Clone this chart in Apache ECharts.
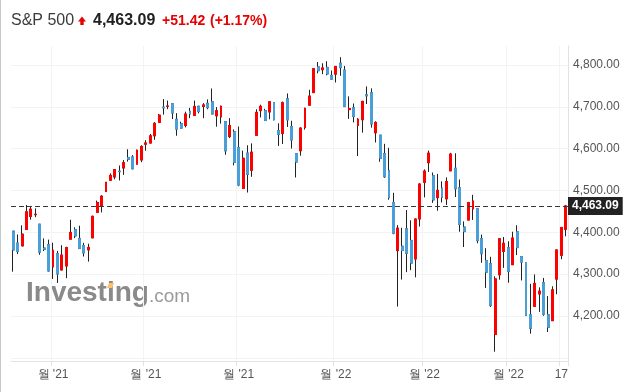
<!DOCTYPE html>
<html>
<head>
<meta charset="utf-8">
<script src="https://cdn.jsdelivr.net/npm/echarts@6/dist/echarts.min.js"></script>
<style>
html,body{margin:0;padding:0;background:#fff;}
#c{width:631px;height:392px;}
</style>
</head>
<body>
<div id="c"></div>
<script>
// ---- data ----
const dates = [
'2021-09-20','2021-09-21','2021-09-22','2021-09-23','2021-09-24','2021-09-27','2021-09-28','2021-09-29','2021-09-30',
'2021-10-01','2021-10-04','2021-10-05','2021-10-06','2021-10-07','2021-10-08','2021-10-11','2021-10-12','2021-10-13','2021-10-14','2021-10-15','2021-10-18','2021-10-19','2021-10-20','2021-10-21','2021-10-22','2021-10-25','2021-10-26','2021-10-27','2021-10-28','2021-10-29',
'2021-11-01','2021-11-02','2021-11-03','2021-11-04','2021-11-05','2021-11-08','2021-11-09','2021-11-10','2021-11-11','2021-11-12','2021-11-15','2021-11-16','2021-11-17','2021-11-18','2021-11-19','2021-11-22','2021-11-23','2021-11-24','2021-11-26','2021-11-29','2021-11-30',
'2021-12-01','2021-12-02','2021-12-03','2021-12-06','2021-12-07','2021-12-08','2021-12-09','2021-12-10','2021-12-13','2021-12-14','2021-12-15','2021-12-16','2021-12-17','2021-12-20','2021-12-21','2021-12-22','2021-12-23','2021-12-27','2021-12-28','2021-12-29','2021-12-30','2021-12-31',
'2022-01-03','2022-01-04','2022-01-05','2022-01-06','2022-01-07','2022-01-10','2022-01-11','2022-01-12','2022-01-13','2022-01-14','2022-01-18','2022-01-19','2022-01-20','2022-01-21','2022-01-24','2022-01-25','2022-01-26','2022-01-27','2022-01-28','2022-01-31',
'2022-02-01','2022-02-02','2022-02-03','2022-02-04','2022-02-07','2022-02-08','2022-02-09','2022-02-10','2022-02-11','2022-02-14','2022-02-15','2022-02-16','2022-02-17','2022-02-18','2022-02-22','2022-02-23','2022-02-24','2022-02-25','2022-02-28',
'2022-03-01','2022-03-02','2022-03-03','2022-03-04','2022-03-07','2022-03-08','2022-03-09','2022-03-10','2022-03-11','2022-03-14','2022-03-15','2022-03-16','2022-03-17','2022-03-18'
];
const opens = [
4402.95,4374.45,4367.43,4406.75,4438.04,4442.12,4419.54,4362.41,4370.67,
4317.16,4348.84,4309.87,4319.57,4383.73,4406.51,4385.44,4368.31,4358.01,4386.75,4447.69,4463.72,4497.34,4524.42,4532.24,4546.12,4553.69,4578.69,4580.22,4562.84,4572.87,
4610.62,4613.34,4630.65,4662.93,4699.26,4701.48,4707.25,4670.26,4659.39,4655.24,4689.30,4679.42,4701.50,4700.72,4708.44,4712.00,4678.48,4675.78,4664.63,4628.75,4640.25,
4602.82,4504.73,4589.49,4548.37,4631.97,4690.86,4691.00,4687.64,4710.30,4642.99,4636.46,4719.13,4652.50,4587.90,4594.96,4650.36,4703.96,4733.99,4795.49,4788.64,4794.23,4775.21,
4778.14,4804.51,4787.99,4693.39,4697.66,4655.34,4669.14,4728.59,4733.56,4637.99,4632.24,4588.03,4547.35,4471.38,4356.32,4366.64,4408.43,4380.58,4336.19,4431.79,
4519.57,4566.39,4535.41,4482.79,4505.75,4480.02,4547.00,4553.24,4506.27,4412.61,4429.28,4455.75,4456.06,4384.57,4332.74,4324.93,4155.77,4298.38,4354.17,
4363.14,4322.56,4401.31,4342.12,4327.01,4202.66,4223.10,4252.55,4279.50,4202.75,4188.82,4288.14,4345.11,4407.34
];
const highs = [
4402.95,4394.87,4416.75,4465.40,4463.12,4457.30,4419.54,4385.57,4382.55,
4375.19,4355.51,4369.23,4365.57,4429.97,4412.02,4415.88,4374.89,4372.87,4439.73,4475.82,4488.75,4520.40,4540.87,4551.44,4559.67,4572.62,4598.53,4584.57,4597.55,4608.08,
4620.34,4635.15,4663.46,4683.00,4718.50,4714.92,4708.53,4684.85,4664.55,4688.47,4697.42,4714.95,4701.50,4708.80,4717.75,4743.83,4699.39,4702.87,4664.63,4672.95,4646.02,
4652.94,4595.46,4608.03,4612.60,4694.04,4705.06,4695.26,4713.57,4710.30,4660.47,4712.60,4731.99,4666.70,4587.90,4651.14,4697.67,4740.74,4791.49,4807.02,4804.06,4808.93,4786.83,
4796.64,4818.62,4797.70,4725.01,4707.95,4673.02,4714.13,4748.83,4744.13,4665.13,4632.24,4611.55,4602.11,4494.52,4417.35,4411.01,4453.23,4428.74,4432.72,4516.89,
4550.49,4595.31,4542.88,4539.66,4521.86,4531.32,4590.03,4588.92,4526.33,4426.22,4472.77,4489.55,4456.06,4394.60,4362.12,4341.51,4294.73,4385.34,4388.84,
4378.45,4401.48,4416.78,4342.12,4327.01,4276.94,4299.40,4268.28,4291.01,4247.57,4271.05,4358.90,4412.67,4465.40
];
const lows = [
4305.91,4347.96,4367.43,4406.75,4430.27,4436.19,4346.33,4355.08,4306.24,
4288.52,4278.94,4309.87,4290.49,4383.73,4386.22,4360.59,4342.09,4329.92,4386.75,4447.69,4447.47,4496.41,4524.40,4526.89,4524.00,4537.36,4569.17,4551.66,4562.84,4567.59,
4595.06,4613.34,4621.19,4662.59,4681.32,4694.39,4670.87,4630.86,4648.31,4650.77,4672.86,4679.42,4684.41,4672.78,4694.22,4682.17,4652.66,4659.89,4585.43,4625.26,4560.00,
4510.27,4504.73,4495.12,4532.76,4631.97,4674.52,4665.98,4670.24,4667.60,4606.52,4611.22,4651.89,4600.22,4531.10,4583.16,4645.53,4703.96,4733.99,4780.04,4778.08,4775.33,4765.75,
4758.17,4774.27,4699.44,4671.26,4662.74,4582.24,4638.27,4706.71,4650.29,4614.75,4568.70,4530.20,4477.95,4395.34,4222.62,4287.11,4304.80,4309.50,4292.46,4414.02,
4483.53,4544.32,4470.39,4451.50,4471.47,4465.40,4547.00,4484.31,4401.41,4364.84,4429.28,4429.68,4373.81,4327.22,4267.11,4221.51,4114.65,4286.83,4315.12,
4279.54,4322.56,4345.56,4284.98,4199.85,4157.87,4223.10,4209.80,4200.49,4161.72,4187.90,4251.99,4335.65,4390.57
];
const closes = [
4357.73,4354.19,4395.64,4448.98,4455.48,4443.11,4352.63,4359.46,4307.54,
4357.04,4300.46,4345.72,4363.55,4399.76,4391.34,4361.19,4350.65,4363.80,4438.26,4471.37,4486.46,4519.63,4536.19,4549.78,4544.90,4566.48,4574.79,4551.68,4596.42,4605.38,
4613.67,4630.65,4660.57,4680.06,4697.53,4701.70,4685.25,4646.71,4649.27,4682.85,4682.80,4700.90,4688.67,4704.54,4697.96,4682.94,4690.70,4701.46,4594.62,4655.27,4567.00,
4513.04,4577.10,4538.43,4591.67,4686.75,4701.21,4667.45,4712.02,4668.97,4634.09,4709.85,4668.67,4620.64,4568.02,4649.23,4696.56,4725.79,4791.19,4786.35,4793.06,4778.73,4766.18,
4796.56,4793.54,4700.58,4696.05,4677.03,4670.29,4713.07,4726.35,4659.03,4662.85,4577.11,4532.76,4482.73,4397.94,4410.13,4356.45,4349.93,4326.51,4431.85,4515.55,
4546.54,4589.38,4477.44,4500.53,4483.87,4521.54,4587.18,4504.08,4418.64,4401.67,4471.07,4475.01,4380.26,4348.87,4304.76,4225.50,4288.70,4384.65,4373.94,
4306.26,4386.54,4363.49,4328.87,4201.09,4170.70,4277.88,4259.52,4204.31,4173.11,4262.45,4357.86,4411.67,4463.09
];
const tickDates = ['2021-10-01','2021-11-01','2021-12-01','2022-01-03','2022-02-01','2022-03-01','2022-03-17'];
const tickLabels = ["월 '21","월 '21","월 '21","월 '22","월 '22","월 '22","17"];
const yTickValues = [4200,4300,4400,4500,4600,4700,4800];
const yMin = 4092.4, yMax = 4845.4;
const instrument = 'S&P 500';
const lastPrice = 4463.09;
const changeText = '+51.42';
const changePctText = '(+1.17%)';

// ---- chart ----
const UP = '#ff0000', DOWN = '#4a9fd9', WICK = '#222';
const fmt2 = v => v.toLocaleString('en-US',{minimumFractionDigits:2, maximumFractionDigits:2});
const isTick = (idx, val) => tickDates.indexOf(val) >= 0;

const fullData = dates.map((d,i)=>[opens[i], closes[i], lows[i], highs[i]]);
const bodyData = dates.map((d,i)=>[opens[i], closes[i], Math.min(opens[i],closes[i]), Math.max(opens[i],closes[i])]);

const chart = echarts.init(document.getElementById('c'), null, {renderer:'canvas'});
const FONT = '"Liberation Sans", Arial, sans-serif';
chart.setOption({
  animation:false,
  backgroundColor:'#fff',
  textStyle:{fontFamily:FONT},
  grid:{left:11, right:63, top:46, bottom:31, containLabel:false},
  xAxis:{
    type:'category', data:dates, boundaryGap:true,
    axisLine:{show:true, lineStyle:{color:'#dfe3e8', width:1}},
    axisTick:{show:true, interval:isTick, length:5, lineStyle:{color:'#dfe3e8'}},
    axisLabel:{interval:isTick, color:'#555', fontSize:12, margin:8, fontFamily:FONT,
      formatter:(v)=>{const k=tickDates.indexOf(v); return k>=0?tickLabels[k]:'';}},
    splitLine:{show:true, interval:isTick, lineStyle:{color:'#f2f3f5', width:1}}
  },
  yAxis:{
    type:'value', position:'right', scale:true, min:yMin, max:yMax,
    minInterval:100, maxInterval:100,
    axisLine:{show:true, lineStyle:{color:'#dfe3e8'}},
    axisTick:{show:false},
    axisLabel:{color:'#555', fontSize:12, margin:5, fontFamily:FONT, showMinLabel:false, showMaxLabel:false,
      formatter:(v)=>{const r=Math.round(v); return (Math.abs(v-r)<0.01 && yTickValues.indexOf(r)>=0)?fmt2(r):'';}},
    splitLine:{show:true, showMinLine:false, showMaxLine:false, lineStyle:{color:'#f2f3f5', width:1}}
  },
  series:[
    {
      type:'candlestick', data:fullData, barWidth:2.4, z:2,
      itemStyle:{color:WICK, color0:WICK, borderColor:WICK, borderColor0:WICK, borderColorDoji:WICK, borderWidth:1}
    },
    {
      type:'candlestick', data:bodyData, barWidth:2.4, z:3,
      itemStyle:{color:UP, color0:DOWN, borderColor:UP, borderColor0:DOWN, borderWidth:1},
      markLine:{
        silent:true, symbol:['none','none'], animation:false,
        lineStyle:{color:'#3a3a3a', type:[5,3], width:1},
        label:{show:true, position:'end', distance:0, formatter:()=>fmt2(lastPrice),
          backgroundColor:'#222', color:'#fff', fontWeight:'bold', fontSize:12, fontFamily:FONT,
          padding:[3,4,3,4]},
        data:[{yAxis:lastPrice}]
      }
    }
  ],
  graphic:[
    {type:'rect', left:0, top:0, shape:{x:0,y:0,width:1,height:392}, style:{fill:'#c8c8c8'}, z:100},
    // header
    {type:'text', x:11, y:21, style:{text:instrument, font:'16px '+FONT, fill:'#3c3c3c', verticalAlign:'middle'}},
    {type:'polygon', shape:{points:[[78,21.5],[82,16.5],[86,21.5],[83.7,21.5],[83.7,25],[80.3,25],[80.3,21.5]]}, style:{fill:'#e60000'}},
    {type:'text', x:93, y:21, style:{text:fmt2(lastPrice), font:'bold 16px '+FONT, fill:'#222', verticalAlign:'middle'}},
    {type:'text', x:162, y:21, style:{text:changeText, font:'bold 14px '+FONT, fill:'#e60000', verticalAlign:'middle'}},
    {type:'text', x:210, y:21, style:{text:changePctText, font:'bold 14px '+FONT, fill:'#e60000', verticalAlign:'middle'}},
    // watermark
    {type:'text', x:26, y:279, z:0, style:{text:'Investing', font:'bold 28px '+FONT, fill:'#8a8a8a', verticalAlign:'top'}},
    {type:'text', x:149, y:287, z:0, style:{text:'.com', font:'19px '+FONT, fill:'#9a9a9a', verticalAlign:'top'}},
    {type:'polygon', z:1, shape:{points:[[107,288],[109,283],[114,283],[112,288]]}, style:{fill:'#fbc16e'}}
  ]
});
</script>
</body>
</html>
